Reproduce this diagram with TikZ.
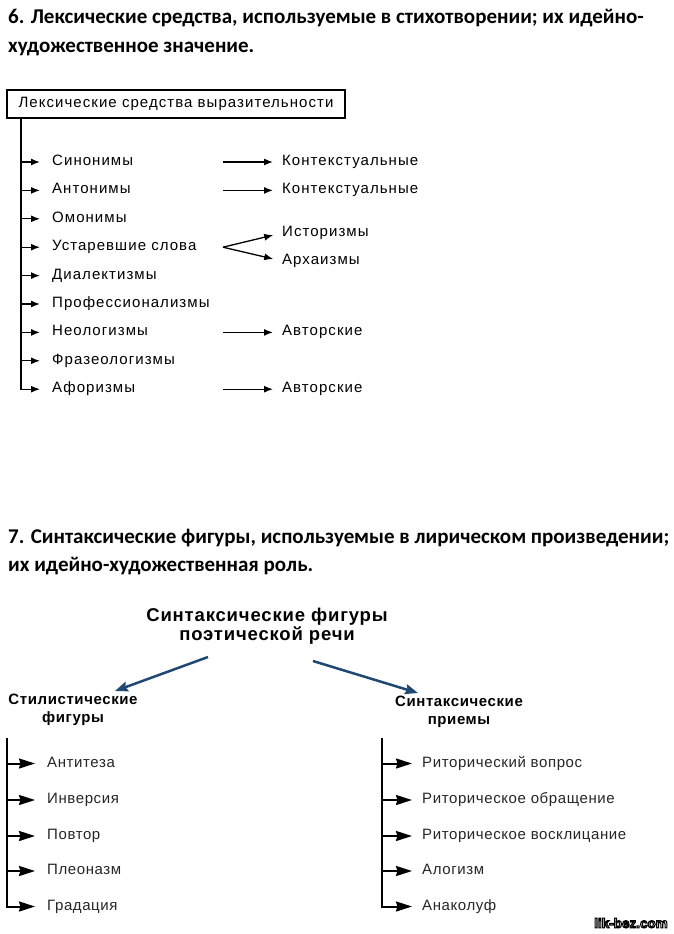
\documentclass[tikz,border=0pt]{standalone}
\usepackage{fontspec}
\setmainfont{Liberation Sans}
\newfontfamily\calfont{Carlito}
\usetikzlibrary{arrows.meta}
\definecolor{navy}{RGB}{31,72,115}
\newcommand{\outlinetext}[1]{\special{pdf:literal direct 2 Tr 0 G 1.1 w}#1\special{pdf:literal direct 0 Tr}}
\begin{document}
\begin{tikzpicture}[x=1pt,y=-1pt,
  ttl/.style={anchor=base west, inner sep=0pt, font=\calfont\bfseries\fontsize{21}{24}\selectfont},
  itm/.style={anchor=west, inner sep=0pt, text height=0.716em, text depth=0pt, font=\fontsize{15}{18}\selectfont\addfontfeature{LetterSpace=7}},
  bitm/.style={anchor=west, inner sep=0pt, text height=0.716em, text depth=0pt, font=\fontsize{15}{18}\selectfont\addfontfeature{LetterSpace=4}, text=black!85},
  hdr/.style={align=center, inner sep=0pt, font=\bfseries\fontsize{18.5}{19}\selectfont\addfontfeature{LetterSpace=4.5}},
  shdr/.style={align=center, inner sep=0pt, font=\bfseries\fontsize{15}{18}\selectfont\addfontfeature{LetterSpace=4}},
  tarr/.style={line width=1.3pt, -{Latex[length=9pt,width=7pt]}},
  barr/.style={line width=2pt, -{Stealth[length=16pt,width=10pt,inset=1.5pt]}},
  narr/.style={navy, line width=2.5pt, -{Stealth[length=13pt,width=10pt,inset=2pt]}},
  wm/.style={inner sep=0pt, font=\bfseries\fontsize{13.5}{14}\selectfont}
]
\useasboundingbox[fill=white] (0,0) rectangle (674,934);

% ---------- Section 6 ----------
\node[ttl] (t6a) at (8,23.5) {6. Лексические средства, используемые в стихотворении; их идейно-};
\node[ttl] (t6b) at (8,52.5) {художественное значение.};

\node[draw, line width=1.1pt, minimum width=338pt, minimum height=28pt, inner sep=0pt,
      font=\fontsize{15}{18}\selectfont\addfontfeature{LetterSpace=7}] (lex) at (176,104)
      {Лексические средства выразительности};

\coordinate (a1) at (21,162);
\coordinate (a2) at (21,190.4);
\coordinate (a3) at (21,218.8);
\coordinate (a4) at (21,247.2);
\coordinate (a5) at (21,275.6);
\coordinate (a6) at (21,304);
\coordinate (a7) at (21,332.4);
\coordinate (a8) at (21,360.8);
\coordinate (a9) at (21,389.2);

\node[itm] (syn) at (52,162) {Синонимы};
\node[itm] (ant) at (52,190.4) {Антонимы};
\node[itm] (omo) at (52,218.8) {Омонимы};
\node[itm] (ust) at (52,247.2) {Устаревшие слова};
\node[itm] (dia) at (52,275.6) {Диалектизмы};
\node[itm] (pro) at (52,304) {Профессионализмы};
\node[itm] (neo) at (52,332.4) {Неологизмы};
\node[itm] (fra) at (52,360.8) {Фразеологизмы};
\node[itm] (afo) at (52,389.2) {Афоризмы};

\draw[tarr, shorten >=12pt] (lex.south -| a9) -- (a9) -- (afo.west);
\draw[tarr, shorten >=12pt] (a1) -- (syn.west);
\draw[tarr, shorten >=12pt] (a2) -- (ant.west);
\draw[tarr, shorten >=12pt] (a3) -- (omo.west);
\draw[tarr, shorten >=12pt] (a4) -- (ust.west);
\draw[tarr, shorten >=12pt] (a5) -- (dia.west);
\draw[tarr, shorten >=12pt] (a6) -- (pro.west);
\draw[tarr, shorten >=12pt] (a7) -- (neo.west);
\draw[tarr, shorten >=12pt] (a8) -- (fra.west);

\coordinate (b1) at (223,162);
\coordinate (b2) at (223,190.4);
\coordinate (b4) at (223,247.2);
\coordinate (b7) at (223,332.4);
\coordinate (b9) at (223,389.2);

\node[itm] (k1) at (282,162) {Контекстуальные};
\node[itm] (k2) at (282,190.4) {Контекстуальные};
\node[itm] (ist) at (282,233) {Историзмы};
\node[itm] (arh) at (282,261) {Архаизмы};
\node[itm] (av1) at (282,332.4) {Авторские};
\node[itm] (av2) at (282,389.2) {Авторские};

\draw[tarr, shorten >=9pt] (b1) -- (k1.west);
\draw[tarr, shorten >=9pt] (b2) -- (k2.west);
\draw[tarr, shorten >=9pt] (b4) -- (ist.west);
\draw[tarr, shorten >=9pt] (b4) -- (arh.west);
\draw[tarr, shorten >=9pt] (b7) -- (av1.west);
\draw[tarr, shorten >=9pt] (b9) -- (av2.west);

% ---------- Section 7 ----------
\node[ttl] (t7a) at (8,543.5) {7. Синтаксические фигуры, используемые в лирическом произведении;};
\node[ttl] (t7b) at (8,571.5) {их идейно-художественная роль.};

\node[hdr] (sf) at (267,626) {Синтаксические фигуры\\поэтической речи};
\node[shdr] (stf) at (73,710) {Стилистические\\фигуры};
\node[shdr] (stp) at (459,712) {Синтаксические\\приемы};

\coordinate (la) at (208,657);
\coordinate (lb) at (115,691);
\coordinate (ra) at (313,661);
\coordinate (rb) at (418,693);
\draw[narr] (la) -- (lb);
\draw[narr] (ra) -- (rb);

% left list
\coordinate (c0) at (7,738);
\coordinate (c1) at (7,763.5);
\coordinate (c2) at (7,800);
\coordinate (c3) at (7,836);
\coordinate (c4) at (7,871);
\coordinate (c5) at (7,906.5);
\node[bitm] (l1) at (47,763.5) {Антитеза};
\node[bitm] (l2) at (47,800) {Инверсия};
\node[bitm] (l3) at (47,836) {Повтор};
\node[bitm] (l4) at (47,871) {Плеоназм};
\node[bitm] (l5) at (47,906.5) {Градация};
\draw[barr, shorten >=12pt] (c0) -- (c5) -- (l5.west);
\draw[barr, shorten >=12pt] (c1) -- (l1.west);
\draw[barr, shorten >=12pt] (c2) -- (l2.west);
\draw[barr, shorten >=12pt] (c3) -- (l3.west);
\draw[barr, shorten >=12pt] (c4) -- (l4.west);

% right list
\coordinate (d0) at (382,738);
\coordinate (d1) at (382,763.5);
\coordinate (d2) at (382,800);
\coordinate (d3) at (382,836);
\coordinate (d4) at (382,871);
\coordinate (d5) at (382,906.5);
\node[bitm] (r1) at (422,763.5) {Риторический вопрос};
\node[bitm] (r2) at (422,800) {Риторическое обращение};
\node[bitm] (r3) at (422,836) {Риторическое восклицание};
\node[bitm] (r4) at (422,871) {Алогизм};
\node[bitm] (r5) at (422,906.5) {Анаколуф};
\draw[barr, shorten >=10pt] (d0) -- (d5) -- (r5.west);
\draw[barr, shorten >=10pt] (d1) -- (r1.west);
\draw[barr, shorten >=10pt] (d2) -- (r2.west);
\draw[barr, shorten >=10pt] (d3) -- (r3.west);
\draw[barr, shorten >=10pt] (d4) -- (r4.west);

% watermark
\node[wm, text=white] (wmk) at (631,923) {\outlinetext{lik-bez.com}};
\end{tikzpicture}
\end{document}
